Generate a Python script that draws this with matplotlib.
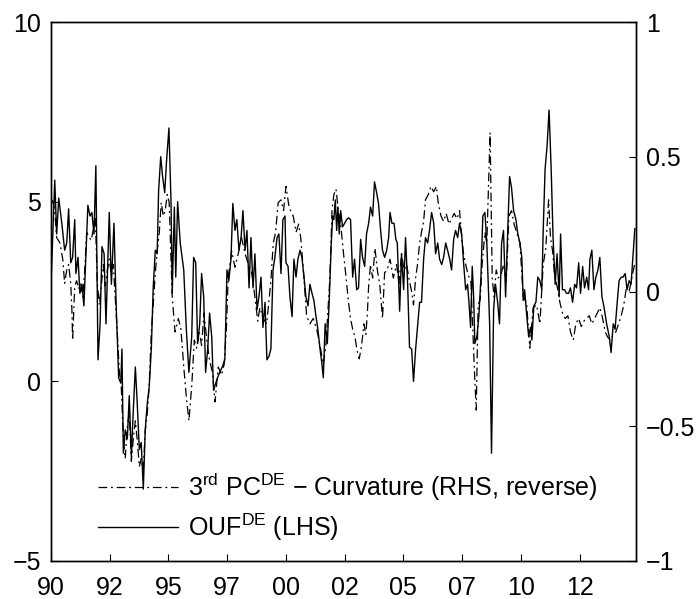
import matplotlib
matplotlib.use("Agg")
import matplotlib.pyplot as plt

plt.rcParams["font.family"] = ["Liberation Sans", "DejaVu Sans"]
plt.rcParams["mathtext.fontset"] = "custom"
plt.rcParams["mathtext.rm"] = "Liberation Sans"
plt.rcParams["mathtext.it"] = "Liberation Sans:italic"
plt.rcParams["mathtext.bf"] = "Liberation Sans:bold"

# OUF^DE (LHS)
ouf_years = [
    1990.00, 1990.16, 1990.24, 1990.33, 1990.46, 1990.58, 1990.67, 1990.75, 1990.84, 1990.92,
    1991.01, 1991.06, 1991.15, 1991.23, 1991.32, 1991.40, 1991.46, 1991.57, 1991.66, 1991.74,
    1991.83, 1991.91, 1992.00, 1992.09, 1992.17, 1992.26, 1992.34, 1992.40, 1992.48, 1992.57,
    1992.68, 1992.77, 1992.88, 1992.97, 1993.02, 1993.08, 1993.16, 1993.25, 1993.33, 1993.42,
    1993.49, 1993.59, 1993.67, 1993.76, 1993.84, 1993.93, 1994.01, 1994.10, 1994.18, 1994.27,
    1994.35, 1994.44, 1994.52, 1994.58, 1994.67, 1994.75, 1994.84, 1994.92, 1995.02,
    1995.11, 1995.16, 1995.25, 1995.31, 1995.39, 1995.50, 1995.65, 1995.76, 1995.87, 1995.99,
    1996.07, 1996.16, 1996.24, 1996.33, 1996.41, 1996.50, 1996.58, 1996.67, 1996.75, 1996.84,
    1996.92, 1997.01, 1997.09, 1997.18, 1997.29, 1997.40, 1997.49, 1997.57, 1997.66, 1997.74,
    1997.83, 1997.91, 1998.00, 1998.09, 1998.17, 1998.26, 1998.34, 1998.43, 1998.51, 1998.60,
    1998.68, 1998.77, 1998.85, 1998.94, 1999.02, 1999.11, 1999.19, 1999.28, 1999.36, 1999.45,
    1999.53, 1999.62, 1999.70, 1999.79, 1999.87, 1999.96,
    2000.00, 2000.09, 2000.17, 2000.26, 2000.34, 2000.43, 2000.51, 2000.60, 2000.68, 2000.77,
    2000.85, 2000.94, 2001.02, 2001.11, 2001.19, 2001.28, 2001.36, 2001.45, 2001.53, 2001.59,
    2001.67, 2001.76, 2001.84, 2001.93, 2001.99, 2002.04, 2002.10, 2002.16, 2002.21, 2002.27,
    2002.33, 2002.41, 2002.50, 2002.58, 2002.67, 2002.75, 2002.84, 2002.92, 2003.01, 2003.09,
    2003.18, 2003.26, 2003.35, 2003.43, 2003.52, 2003.60, 2003.69, 2003.77, 2003.86, 2003.94,
    2004.03, 2004.11, 2004.20, 2004.29, 2004.37, 2004.43, 2004.51, 2004.60, 2004.68, 2004.74,
    2004.84, 2004.92, 2005.01, 2005.09, 2005.18, 2005.26, 2005.35, 2005.43, 2005.52, 2005.60,
    2005.69, 2005.77, 2005.86, 2005.94, 2006.03, 2006.11, 2006.20, 2006.29, 2006.37, 2006.46,
    2006.54, 2006.63, 2006.71, 2006.80, 2006.88, 2006.97, 2007.05, 2007.14, 2007.22, 2007.31,
    2007.39, 2007.48, 2007.56, 2007.65, 2007.73, 2007.79, 2007.86, 2007.93, 2007.99, 2008.04,
    2008.13, 2008.21, 2008.30, 2008.38, 2008.47, 2008.55, 2008.61, 2008.67, 2008.75, 2008.84,
    2008.92, 2009.01, 2009.09, 2009.18, 2009.26, 2009.35, 2009.43, 2009.52, 2009.60, 2009.69,
    2009.79, 2009.87, 2009.96, 2010.04, 2010.10, 2010.16, 2010.24, 2010.33, 2010.41, 2010.47,
    2010.55, 2010.64, 2010.72, 2010.81, 2010.89, 2010.95, 2011.03, 2011.12, 2011.20, 2011.29,
    2011.37, 2011.46, 2011.54, 2011.63, 2011.69, 2011.77, 2011.86, 2011.94, 2012.03, 2012.11,
    2012.20, 2012.29, 2012.37, 2012.46, 2012.54, 2012.63, 2012.71, 2012.80, 2012.88, 2012.94,
    2013.02, 2013.11, 2013.19, 2013.28, 2013.36, 2013.45, 2013.53, 2013.65, 2013.76, 2013.84,
    2013.93, 2014.01, 2014.10, 2014.18, 2014.27, 2014.35, 2014.44, 2014.52, 2014.61, 2014.69,
    2014.78, 2014.85,
]
ouf_values = [
    2.7, 5.6, 4.1, 5.1, 4.4, 3.65, 3.85, 4.8, 3.3, 3.45,
    4.5, 3.0, 3.45, 2.45, 2.7, 2.1, 3.1, 4.9, 4.6, 4.7,
    4.1, 6.0, 0.6, 1.6, 3.75, 3.55, 1.6, 2.9, 4.7, 2.7,
    4.4, 2.2, 0.1, -0.05, 0.9, -2.0, -1.35, -1.6, -0.4, -2.1,
    -1.0, 0.4, -0.6, -1.9, -1.7, -3.0, -1.35, -0.6, -0.15, 0.9,
    2.6, 3.65, 3.55, 5.3, 6.25, 5.7, 5.25, 6.15, 7.05,
    4.95, 2.45, 4.85, 2.9, 5.0, 3.85, 3.1, 1.45, 0.25, 1.25,
    3.45, 3.3, 1.05, 1.6, 3.0, 2.35, 0.25, 0.9, 1.9, 1.25,
    -0.25, -0.05, 0.1, 0.25, 0.4, 0.6, 3.1, 2.8, 3.4, 4.95,
    4.2, 4.5, 3.65, 4.0, 4.75, 3.65, 4.2, 2.6, 4.0, 2.6,
    3.55, 2.0, 2.35, 2.9, 1.5, 2.2, 0.6, 0.7, 0.9, 3.1,
    3.45, 4.0, 4.1, 3.0, 4.5, 4.6,
    3.3, 3.2, 2.35, 1.8, 3.4, 2.9, 3.4, 3.65, 3.45, 2.9,
    2.35, 2.1, 2.7, 2.45, 2.25, 1.8, 1.45, 0.9, 0.5, 0.1,
    1.6, 1.05, 2.2, 3.85, 4.6, 4.5, 5.05, 4.2, 4.85, 4.1,
    4.75, 4.3, 4.4, 4.5, 4.55, 4.5, 2.9, 3.4, 2.55, 2.6,
    3.95, 3.45, 3.2, 4.1, 4.4, 4.85, 4.6, 5.55, 5.25, 4.95,
    4.2, 3.65, 3.45, 3.65, 4.0, 4.7, 4.4, 4.4, 3.95, 3.85,
    1.95, 3.55, 2.55, 4.0, 2.7, 0.95, 0.9, 0.0, 0.9, 1.5,
    2.2, 2.2, 3.4, 4.0, 3.85, 4.2, 4.7, 4.4, 3.55, 3.85,
    3.4, 3.25, 3.45, 3.85, 3.65, 3.4, 3.1, 3.95, 4.2, 4.0,
    4.4, 4.1, 3.3, 2.55, 2.7, 2.2, 1.5, 3.2, 2.35, 1.05,
    1.25, 1.8, 2.9, 4.6, 4.7, 3.85, 2.7, 1.6, -2.0, 2.0,
    2.7, 2.2, 1.6, 3.85, 4.2, 2.35, 4.0, 5.7, 5.4, 4.75,
    4.5, 4.1, 3.85, 3.45, 2.25, 2.55, 1.9, 1.25, 1.5, 1.15,
    2.1, 2.2, 2.9, 2.8, 2.55, 4.2, 5.9, 6.6, 7.55, 5.9,
    4.0, 2.7, 3.55, 2.35, 4.1, 2.55, 2.55, 2.45, 2.45, 2.6,
    2.2, 2.7, 2.6, 3.3, 2.45, 3.2, 2.6, 2.9, 2.55, 3.4,
    3.65, 2.55, 2.9, 3.1, 3.45, 2.35, 2.1, 1.6, 1.25, 0.8,
    1.6, 1.45, 2.2, 2.8, 2.9, 2.9, 3.0, 2.55, 2.8, 2.7,
    3.55, 4.25,
]

# 3rd PC^DE curvature (RHS, sign reversed)
pc3_years = [
    1990.07, 1990.16, 1990.24, 1990.38, 1990.50, 1990.58, 1990.67, 1990.75, 1990.84, 1990.89,
    1990.92, 1991.01, 1991.09, 1991.18, 1991.26, 1991.35, 1991.43, 1991.52, 1991.63, 1991.71,
    1991.80, 1991.89, 1991.97, 1992.06, 1992.14, 1992.23, 1992.31, 1992.40, 1992.48, 1992.57,
    1992.65, 1992.74, 1992.82, 1992.91, 1992.99, 1993.08, 1993.16, 1993.25, 1993.33, 1993.42,
    1993.50, 1993.59, 1993.67, 1993.76, 1993.84, 1993.93, 1994.01, 1994.10, 1994.18, 1994.27,
    1994.35, 1994.44, 1994.52, 1994.61, 1994.69, 1994.78, 1994.86, 1994.95, 1995.03,
    1995.06, 1995.16, 1995.28, 1995.42, 1995.53, 1995.67, 1995.77, 1995.87, 1995.99, 1996.10,
    1996.20, 1996.31, 1996.41, 1996.51, 1996.63, 1996.74, 1996.87, 1996.98, 1997.12, 1997.26,
    1997.37, 1997.47, 1997.54, 1997.69, 1997.83, 1997.97, 1998.11, 1998.26, 1998.40, 1998.54,
    1998.68, 1998.80, 1998.89, 1999.03, 1999.18, 1999.28, 1999.36, 1999.46, 1999.56, 1999.67,
    1999.79, 1999.90,
    2000.00, 2000.14, 2000.31, 2000.43, 2000.54, 2000.63, 2000.74, 2000.88, 2001.02, 2001.16,
    2001.31, 2001.45, 2001.59, 2001.70, 2001.80, 2001.87, 2001.96, 2002.04, 2002.13, 2002.23,
    2002.33, 2002.44, 2002.55, 2002.65, 2002.75, 2002.84, 2002.94, 2003.03, 2003.12, 2003.22,
    2003.32, 2003.40, 2003.46, 2003.52, 2003.60, 2003.69, 2003.79, 2003.89, 2004.00, 2004.11,
    2004.20, 2004.31, 2004.43, 2004.57, 2004.71, 2004.81, 2004.92, 2005.03, 2005.14, 2005.23,
    2005.35, 2005.43, 2005.52, 2005.60, 2005.69, 2005.77, 2005.86, 2005.94, 2006.06, 2006.17,
    2006.29, 2006.40, 2006.48, 2006.60, 2006.71, 2006.82, 2006.94, 2007.05, 2007.16, 2007.28,
    2007.39, 2007.48, 2007.56, 2007.65, 2007.76, 2007.87, 2007.97, 2008.04, 2008.10, 2008.18,
    2008.27, 2008.35, 2008.47, 2008.55, 2008.64, 2008.69, 2008.78, 2008.86, 2008.95, 2009.03,
    2009.15, 2009.26, 2009.38, 2009.49, 2009.60, 2009.71, 2009.82, 2009.96, 2010.10, 2010.24,
    2010.38, 2010.52, 2010.67, 2010.81, 2010.95, 2011.06, 2011.18, 2011.26, 2011.35, 2011.43,
    2011.54, 2011.66, 2011.77, 2011.89, 2012.00, 2012.11, 2012.23, 2012.34, 2012.46, 2012.57,
    2012.68, 2012.80, 2012.91, 2013.02, 2013.14, 2013.25, 2013.36, 2013.48, 2013.59, 2013.70,
    2013.82, 2013.93, 2014.04, 2014.16, 2014.27, 2014.38, 2014.50, 2014.61, 2014.72, 2014.84,
]
pc3_values = [
    0.34, 0.30, 0.20, 0.18, 0.12, 0.03, 0.08, 0.10, 0.03, -0.07,
    -0.18, 0.02, 0.04, 0.01, 0.03, -0.02, 0.07, 0.22, 0.20, 0.19,
    0.23, 0.27, 0.03, -0.05, 0.02, 0.10, 0.02, 0.08, 0.12, 0.06,
    0.10, -0.03, -0.15, -0.30, -0.35, -0.55, -0.62, -0.50, -0.45, -0.63,
    -0.55, -0.48, -0.55, -0.65, -0.62, -0.66, -0.52, -0.45, -0.35, -0.15,
    -0.05, 0.07, 0.15, 0.22, 0.33, 0.28, 0.30, 0.36, 0.33,
    0.25, -0.02, -0.15, -0.10, -0.14, -0.30, -0.40, -0.48, -0.35, -0.18,
    -0.21, -0.15, -0.20, -0.08, -0.18, -0.25, -0.30, -0.41, -0.28, -0.31,
    -0.27, -0.13, 0.05, 0.15, 0.09, 0.14, 0.20, 0.14, 0.10, 0.07,
    -0.02, -0.11, -0.06, -0.10, -0.12, -0.03, 0.04, 0.18, 0.22, 0.33,
    0.34, 0.30,
    0.39, 0.31, 0.28, 0.22, 0.25, 0.20, 0.08, -0.09, -0.12, -0.10,
    -0.14, -0.20, -0.27, -0.20, -0.05, 0.05, 0.30, 0.36, 0.38, 0.30,
    0.25, 0.15, 0.06, -0.03, -0.10, -0.14, -0.17, -0.22, -0.25, -0.20,
    -0.12, -0.16, -0.09, 0.02, 0.10, 0.05, 0.16, 0.08, 0.02, -0.10,
    0.07, 0.08, 0.12, 0.05, 0.10, 0.03, 0.14, 0.08, 0.10, 0.05,
    0.00, -0.05, 0.05, 0.10, 0.18, 0.22, 0.26, 0.34, 0.36, 0.39,
    0.37, 0.39, 0.33, 0.28, 0.26, 0.29, 0.25, 0.27, 0.29, 0.27,
    0.30, 0.20, 0.14, 0.10, 0.06, 0.04, -0.18, -0.33, -0.44, -0.05,
    -0.03, 0.10, 0.22, 0.18, 0.45, 0.59, 0.05, -0.02, 0.08, 0.05,
    0.06, 0.10, 0.04, 0.28, 0.30, 0.25, 0.22, 0.18, -0.02, -0.04,
    -0.21, -0.06, -0.05, -0.12, 0.10, 0.16, 0.34, 0.20, 0.15, 0.06,
    0.02, -0.04, -0.08, -0.10, -0.09, -0.15, -0.18, -0.12, -0.10, -0.13,
    -0.11, -0.10, -0.09, -0.12, -0.10, -0.08, -0.06, -0.10, -0.15, -0.17,
    -0.18, -0.16, -0.15, -0.12, -0.09, -0.05, 0.02, 0.00, 0.05, 0.10,
]

x_ticks = [1990, 1992.5, 1995, 1997.5, 2000, 2002.5, 2005, 2007.5, 2010, 2012.5]
x_labels = ["90", "92", "95", "97", "00", "02", "05", "07", "10", "12"]
left_ticks = [-5, 0, 5, 10]
right_ticks = [-1, -0.5, 0, 0.5, 1]
right_labels = ["\u22121", "\u22120.5", "0", "0.5", "1"]

label_pc3 = r"3$^{\mathrm{rd}}$ PC$^{\mathrm{DE}}$ $-$ Curvature (RHS, reverse)"
label_ouf = r"OUF$^{\mathrm{DE}}$ (LHS)"

fig = plt.figure(figsize=(7.0, 5.99), dpi=100)
ax = fig.add_axes([51 / 700, 38 / 599, 585 / 700, 539 / 599])
ax2 = ax.twinx()

ouf_line, = ax.plot(ouf_years, ouf_values, color="black", lw=1.0)
pc3_line, = ax2.plot(pc3_years, pc3_values, color="black", lw=0.9,
                     linestyle=(0, (7, 3, 1.5, 3)))

ax.set_xlim(1990, 2014.9)
ax.set_ylim(-5, 10)
ax2.set_ylim(-1, 1)

ax.set_xticks(x_ticks)
ax.set_xticklabels(x_labels)
ax.set_yticks(left_ticks)
ax2.set_yticks(right_ticks)
ax2.set_yticklabels(right_labels)

for a in (ax, ax2):
    a.tick_params(direction="in", length=5, width=0.8, labelsize=18, pad=7)
    for s in a.spines.values():
        s.set_linewidth(1.0)
ax.tick_params(axis="x", pad=11)

ax2.legend([pc3_line, ouf_line], [label_pc3, label_ouf],
           loc="lower left", bbox_to_anchor=(0.08, 0.034), frameon=False,
           fontsize=18, handlelength=3.2, handletextpad=0.4,
           labelspacing=0.35, borderaxespad=0, borderpad=0)

fig.savefig("out.png", dpi=100)
